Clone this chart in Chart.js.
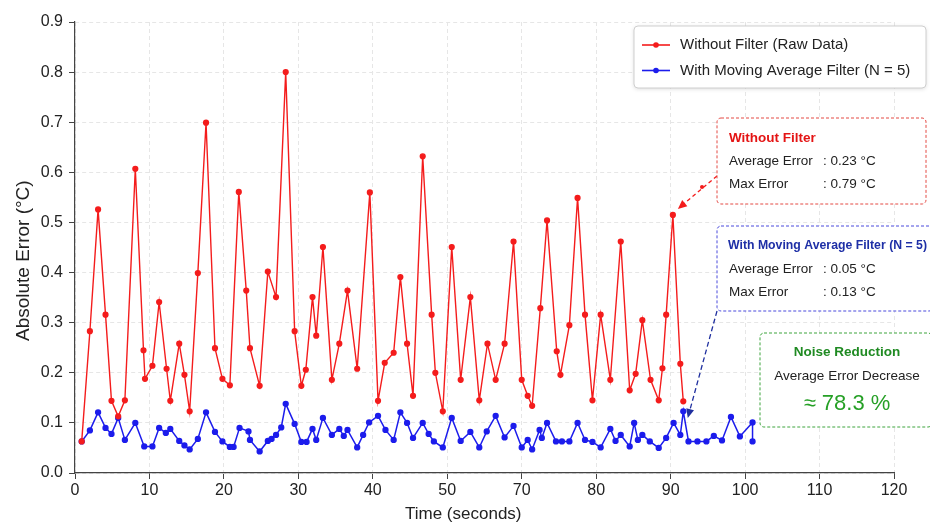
<!DOCTYPE html>
<html>
<head>
<meta charset="utf-8">
<script src="https://cdn.jsdelivr.net/npm/chart.js@4.4.1/dist/chart.umd.min.js"></script>
<style>
  html, body { margin: 0; padding: 0; background: #fff; }
</style>
</head>
<body>
<canvas id="errorChart" width="930" height="525"></canvas>
<script>
// x positions are read on the drawn axis (one tick = 10 units); labels below are as printed
var xTickLabels = ['0', '10', '20', '30', '40', '50', '70', '80', '90', '100', '110', '120'];
var yTickValues = [0, 0.1, 0.2, 0.3, 0.4, 0.5, 0.6, 0.7, 0.8, 0.9];

var rawTime = [0.9, 2.0, 3.1, 4.1, 4.9, 5.8, 6.7, 8.1, 9.2, 9.4, 10.4, 11.3, 12.3, 12.8, 14.0, 14.7, 15.4, 16.5, 17.6, 18.8,
  19.8, 20.8, 22.0, 23.0, 23.5, 24.8, 25.9, 27.0, 28.3, 29.5, 30.4, 31.0, 31.9, 32.4, 33.3, 34.5, 35.5, 36.6, 37.9, 39.6,
  40.7, 41.6, 42.8, 43.7, 44.6, 45.4, 46.7, 47.9, 48.4, 49.4, 50.6, 51.8, 53.1, 54.3, 55.4, 56.5, 57.7, 58.9, 60.0, 60.8,
  61.4, 62.5, 63.4, 64.7, 65.2, 66.4, 67.5, 68.5, 69.5, 70.6, 71.9, 73.3, 74.5, 75.3, 76.2, 77.3, 78.4, 78.9, 79.4, 80.3,
  81.3, 81.7];
var rawError = [0.063, 0.283, 0.526, 0.316, 0.144, 0.113, 0.145, 0.607, 0.245, 0.188, 0.214, 0.341, 0.208, 0.144, 0.258, 0.196, 0.123, 0.399, 0.699, 0.249,
  0.188, 0.175, 0.561, 0.364, 0.249, 0.174, 0.402, 0.351, 0.800, 0.283, 0.174, 0.206, 0.351, 0.274, 0.451, 0.186, 0.258, 0.364, 0.208, 0.560,
  0.144, 0.220, 0.240, 0.391, 0.258, 0.154, 0.632, 0.316, 0.200, 0.123, 0.451, 0.186, 0.351, 0.145, 0.258, 0.186, 0.258, 0.462, 0.186, 0.154,
  0.134, 0.329, 0.504, 0.243, 0.196, 0.295, 0.549, 0.316, 0.145, 0.316, 0.186, 0.462, 0.165, 0.198, 0.305, 0.186, 0.145, 0.209, 0.316, 0.515,
  0.218, 0.143];

var filteredTime = [0.9, 2.0, 3.1, 4.1, 4.9, 5.8, 6.7, 8.1, 9.3, 10.4, 11.3, 12.2, 12.8, 14.0, 14.7, 15.4, 16.5, 17.6, 18.8, 19.8,
  20.8, 21.3, 22.1, 23.3, 23.5, 24.8, 25.9, 26.4, 27.0, 27.7, 28.3, 29.5, 30.4, 31.1, 31.9, 32.4, 33.3, 34.5, 35.5, 36.1,
  36.6, 37.9, 38.7, 39.5, 40.7, 41.7, 42.8, 43.7, 44.6, 45.4, 46.7, 47.5, 48.2, 49.4, 50.6, 51.8, 53.1, 54.3, 55.3, 56.5,
  57.7, 58.9, 60.0, 60.8, 61.4, 62.4, 62.7, 63.4, 64.6, 65.4, 66.4, 67.5, 68.5, 69.5, 70.6, 71.9, 72.6, 73.3, 74.5, 75.1,
  75.6, 76.2, 77.2, 78.4, 79.4, 80.4, 81.3, 81.7, 82.4, 83.6, 84.8, 85.8, 86.9, 88.1, 89.3, 91.0, 91.0];
var filteredError = [0.063, 0.085, 0.121, 0.090, 0.078, 0.110, 0.066, 0.100, 0.053, 0.053, 0.090, 0.080, 0.088, 0.064, 0.055, 0.047, 0.068, 0.121, 0.082, 0.063,
  0.052, 0.052, 0.090, 0.083, 0.066, 0.043, 0.064, 0.068, 0.076, 0.091, 0.138, 0.098, 0.062, 0.062, 0.088, 0.066, 0.110, 0.076, 0.088, 0.074,
  0.086, 0.051, 0.076, 0.101, 0.114, 0.086, 0.066, 0.121, 0.100, 0.070, 0.100, 0.078, 0.063, 0.051, 0.110, 0.064, 0.082, 0.051, 0.083, 0.114,
  0.071, 0.094, 0.051, 0.066, 0.047, 0.086, 0.070, 0.100, 0.063, 0.063, 0.063, 0.100, 0.066, 0.062, 0.051, 0.088, 0.064, 0.076, 0.053, 0.100,
  0.066, 0.076, 0.063, 0.050, 0.070, 0.100, 0.076, 0.123, 0.063, 0.063, 0.063, 0.074, 0.065, 0.112, 0.073, 0.101, 0.063];

var seriesNames = ['Without Filter (Raw Data)', 'With Moving Average Filter (N = 5)'];
var rawStats = ['0.23 °C', '0.79 °C'];
var filteredStats = ['0.05 °C', '0.13 °C'];
var reductionText = '≈ 78.3 %';

var RED = '#f41c1c';
var BLUE = '#1c1cec';
var FONT = '"Liberation Sans", Arial, sans-serif';

function toPoints(xs, ys) {
  return xs.map(function (x, i) { return { x: x, y: ys[i] }; });
}

function arrow(ctx, x1, y1, x2, y2, color, dash) {
  var ang = Math.atan2(y2 - y1, x2 - x1);
  ctx.save();
  ctx.strokeStyle = color;
  ctx.fillStyle = color;
  ctx.lineWidth = 1.3;
  ctx.setLineDash(dash);
  ctx.beginPath();
  ctx.moveTo(x1, y1);
  ctx.lineTo(x2 - 6 * Math.cos(ang), y2 - 6 * Math.sin(ang));
  ctx.stroke();
  ctx.setLineDash([]);
  ctx.beginPath();
  ctx.moveTo(x2, y2);
  ctx.lineTo(x2 - 9 * Math.cos(ang) + 4 * Math.sin(ang), y2 - 9 * Math.sin(ang) - 4 * Math.cos(ang));
  ctx.lineTo(x2 - 9 * Math.cos(ang) - 4 * Math.sin(ang), y2 - 9 * Math.sin(ang) + 4 * Math.cos(ang));
  ctx.closePath();
  ctx.fill();
  ctx.restore();
}

function box(ctx, x, y, w, h, color) {
  ctx.save();
  ctx.fillStyle = '#fff';
  ctx.beginPath();
  ctx.roundRect(x, y, w, h, 4);
  ctx.fill();
  ctx.strokeStyle = color;
  ctx.lineWidth = 1;
  ctx.setLineDash([3, 2]);
  ctx.stroke();
  ctx.restore();
}

var notesPlugin = {
  id: 'notes',
  afterDraw: function (chart) {
    var ctx = chart.ctx;
    var xs = chart.scales.x, ys = chart.scales.y;

    // legend
    ctx.save();
    ctx.shadowColor = 'rgba(0,0,0,0.15)';
    ctx.shadowBlur = 4;
    ctx.shadowOffsetY = 1;
    ctx.fillStyle = '#fff';
    ctx.beginPath();
    ctx.roundRect(634, 26, 292, 62, 4);
    ctx.fill();
    ctx.restore();
    ctx.save();
    ctx.strokeStyle = '#cfcfcf';
    ctx.lineWidth = 1;
    ctx.beginPath();
    ctx.roundRect(634, 26, 292, 62, 4);
    ctx.stroke();
    [[RED, 45], [BLUE, 70.5]].forEach(function (it, i) {
      ctx.strokeStyle = it[0];
      ctx.fillStyle = it[0];
      ctx.lineWidth = 1.6;
      ctx.beginPath();
      ctx.moveTo(642, it[1]);
      ctx.lineTo(670, it[1]);
      ctx.stroke();
      ctx.beginPath();
      ctx.arc(656, it[1], 2.8, 0, Math.PI * 2);
      ctx.fill();
      ctx.fillStyle = '#222';
      ctx.font = '15px ' + FONT;
      ctx.textBaseline = 'middle';
      ctx.fillText(seriesNames[i], 680, it[1]);
    });
    ctx.restore();

    // arrows
    var peakX = xs.getPixelForValue(rawTime[79]) + 5;
    var peakY = ys.getPixelForValue(rawError[79]) - 6;
    arrow(ctx, 717, 176, peakX, peakY, RED, [4, 3]);
    ctx.fillStyle = RED;
    ctx.beginPath();
    ctx.arc(702, 187, 2, 0, Math.PI * 2);
    ctx.fill();
    arrow(ctx, 717, 311, xs.getPixelForValue(82.3), ys.getPixelForValue(0.11), '#1f2f9f', [5, 3]);

    // annotation boxes
    ctx.save();
    ctx.textBaseline = 'middle';
    box(ctx, 717, 118, 209, 86, '#e44a44');
    ctx.fillStyle = '#e41414';
    ctx.font = 'bold 13.5px ' + FONT;
    ctx.fillText('Without Filter', 729, 138);
    ctx.fillStyle = '#222';
    ctx.font = '13.5px ' + FONT;
    ctx.fillText('Average Error', 729, 161);
    ctx.fillText(': ' + rawStats[0], 823, 161);
    ctx.fillText('Max Error', 729, 184);
    ctx.fillText(': ' + rawStats[1], 823, 184);

    box(ctx, 717, 226, 216, 85, '#4a4adc');
    ctx.fillStyle = '#1e2fa6';
    ctx.font = 'bold 13.5px ' + FONT;
    ctx.fillText('With Moving Average Filter (N = 5)', 728, 245, 199);
    ctx.fillStyle = '#222';
    ctx.font = '13.5px ' + FONT;
    ctx.fillText('Average Error', 729, 269);
    ctx.fillText(': ' + filteredStats[0], 823, 269);
    ctx.fillText('Max Error', 729, 292);
    ctx.fillText(': ' + filteredStats[1], 823, 292);

    box(ctx, 760, 333, 172, 94, '#3fa53f');
    ctx.textAlign = 'center';
    ctx.fillStyle = '#1f8a22';
    ctx.font = 'bold 13.5px ' + FONT;
    ctx.fillText('Noise Reduction', 847, 352);
    ctx.fillStyle = '#222';
    ctx.font = '13.5px ' + FONT;
    ctx.fillText('Average Error Decrease', 847, 376);
    ctx.fillStyle = '#26a026';
    ctx.font = '22px ' + FONT;
    ctx.fillText(reductionText, 847, 404);
    ctx.restore();
  }
};

var ctx = document.getElementById('errorChart').getContext('2d');
var errorChart = new Chart(ctx, {
  type: 'line',
  data: {
    datasets: [{
      label: seriesNames[0],
      data: toPoints(rawTime, rawError),
      borderColor: RED,
      backgroundColor: RED,
      borderWidth: 1.4,
      pointRadius: 2.4,
      pointHoverRadius: 2.4,
      tension: 0
    }, {
      label: seriesNames[1],
      data: toPoints(filteredTime, filteredError),
      borderColor: BLUE,
      backgroundColor: BLUE,
      borderWidth: 1.5,
      pointRadius: 2.4,
      pointHoverRadius: 2.4,
      tension: 0
    }]
  },
  options: {
    responsive: false,
    animation: false,
    layout: { padding: { left: 0, top: 22, right: 36, bottom: 0 } },
    plugins: {
      legend: { display: false },
      tooltip: { enabled: false }
    },
    scales: {
      x: {
        type: 'linear',
        min: 0,
        max: (xTickLabels.length - 1) * 10,
        afterFit: function (s) { s.height = 52; },
        ticks: {
          stepSize: 10,
          padding: 2,
          color: '#222',
          font: { family: FONT, size: 16 },
          callback: function (v) { return xTickLabels[Math.round(v / 10)]; }
        },
        grid: { color: '#e6e6e6', tickColor: '#444', tickLength: 6 },
        border: { color: '#444', width: 1.2, dash: [4, 3] },
        title: {
          display: true,
          text: 'Time (seconds)' + '\u00a0'.repeat(9),
          color: '#222',
          font: { family: FONT, size: 17 },
          padding: { top: 0, bottom: 0 }
        }
      },
      y: {
        min: yTickValues[0],
        max: yTickValues[yTickValues.length - 1],
        afterFit: function (s) { s.width = 75; },
        afterBuildTicks: function (s) { s.ticks = yTickValues.map(function (v) { return { value: v }; }); },
        ticks: {
          padding: 6,
          color: '#222',
          font: { family: FONT, size: 16 },
          callback: function (v) { return v.toFixed(1); }
        },
        grid: { color: '#e6e6e6', tickColor: '#444', tickLength: 6 },
        border: { color: '#444', width: 1.2, dash: [4, 3] },
        title: {
          display: true,
          text: 'Absolute Error (°C)' + '\u00a0'.repeat(5),
          color: '#222',
          font: { family: FONT, size: 19 },
          padding: { top: 12, bottom: 0 }
        }
      }
    }
  },
  plugins: [notesPlugin]
});
</script>
</body>
</html>
